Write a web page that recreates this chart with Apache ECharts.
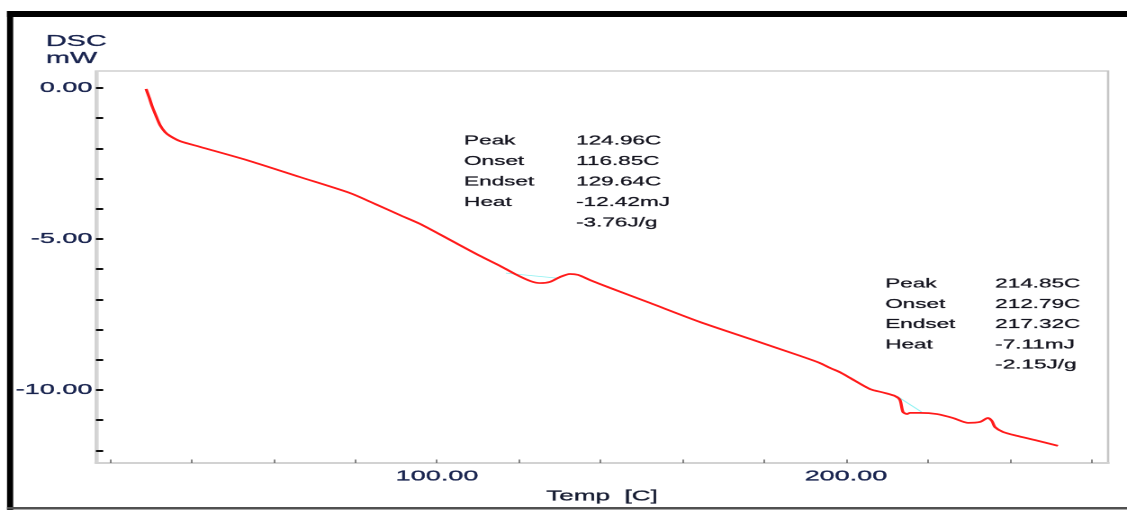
<!DOCTYPE html>
<html>
<head>
<meta charset="utf-8">
<script src="https://cdn.jsdelivr.net/npm/echarts@6/dist/echarts.min.js"></script>
<style>
  html, body { margin: 0; padding: 0; background: #ffffff; overflow: hidden; }
  /* The instrument software draws with wide glyphs; the whole chart is laid out
     narrow and stretched horizontally to reproduce that look. */
  #chart { width: 626px; height: 510px; transform: scaleX(1.8003); transform-origin: 0 0; }
</style>
</head>
<body>
<div id="chart"></div>
<script>
// DSC heating trace: temperature (C) and heat flow (mW)
const temps = [28.85, 29.58, 30.32, 31.30, 32.27, 33.50, 34.72, 37.16, 42.05, 54.28,
  66.50, 78.73, 84.84, 90.95, 95.84, 103.18, 110.51, 115.40, 119.07, 122.74,
  125.18, 127.63, 130.07, 132.52, 134.47, 137.41, 142.30, 152.08, 164.30, 176.53,
  188.75, 193.50, 196.09, 198.60, 200.98, 205.87, 209.54, 211.98, 213.20, 213.94,
  214.91, 215.65, 218.09, 222.25, 226.16, 229.83, 232.76, 234.72, 235.70, 236.43,
  238.39, 241.81, 246.21, 251.83];
const dscValues = [-0.03, -0.30, -0.60, -0.93, -1.23, -1.46, -1.59, -1.76, -1.95, -2.42,
  -2.95, -3.48, -3.84, -4.21, -4.50, -5.03, -5.56, -5.89, -6.16, -6.39,
  -6.46, -6.42, -6.26, -6.16, -6.19, -6.36, -6.62, -7.12, -7.75, -8.31,
  -8.87, -9.10, -9.27, -9.42, -9.60, -9.97, -10.10, -10.20, -10.33, -10.73,
  -10.80, -10.76, -10.76, -10.80, -10.93, -11.09, -11.06, -10.93, -11.03, -11.23,
  -11.39, -11.52, -11.66, -11.85];

// Integration baselines under the two peaks
const baseline1Temps = [116.85, 129.64];
const baseline1Values = [-6.13, -6.30];
const baseline2Temps = [212.60, 218.50];
const baseline2Values = [-10.22, -10.73];

// Axis ranges and tick positions
const xRange = [16.6, 264.1];
const xLabelValues = [100, 200];
const xTickValues = [20, 40, 60, 80, 100, 120, 140, 160, 180, 200, 220, 240, 260];
const yRange = [-12.42, 0.563];
const yLabelValues = [0, -5, -10];
const yTickValues = [0, -1, -2, -3, -4, -5, -6, -7, -8, -9, -10, -11, -12];

// Peak analysis results
const peak1Names = ['Peak', 'Onset', 'Endset', 'Heat', ''];
const peak1Results = ['124.96C', '116.85C', '129.64C', '-12.42mJ', '-3.76J/g'];
const peak2Names = ['Peak', 'Onset', 'Endset', 'Heat', ''];
const peak2Results = ['214.85C', '212.79C', '217.32C', '-7.11mJ', '-2.15J/g'];

const zip = (a, b) => a.map((v, i) => [v, b[i]]);

const FONT = '"Liberation Sans", Arial, sans-serif';
const LABEL_COLOR = '#18234e';
const TEXT_COLOR = '#14141f';

function resultBlock(names, results, x1, x2, y0, step) {
  const els = [];
  const style = t => ({ text: t, font: '12.5px ' + FONT, fill: TEXT_COLOR, verticalAlign: 'middle',
    stroke: TEXT_COLOR, lineWidth: 0.25 });
  names.forEach((n, i) => {
    els.push({ type: 'text', x: x1, y: y0 + i * step, style: style(n) });
    els.push({ type: 'text', x: x2, y: y0 + i * step, style: style(results[i]) });
  });
  return els;
}

const chart = echarts.init(document.getElementById('chart'), null, { renderer: 'canvas', devicePixelRatio: 2 });

chart.setOption({
  backgroundColor: '#ffffff',
  animation: false,
  title: {
    text: 'DSC\nmW', left: 25.5, top: 33, padding: 0,
    textStyle: { fontFamily: FONT, fontSize: 16, lineHeight: 17, fontWeight: 'normal', color: LABEL_COLOR,
      textBorderColor: LABEL_COLOR, textBorderWidth: 0.3 }
  },
  grid: { left: 53.3, right: 10.5, top: 71, bottom: 47, show: true, borderColor: '#c6c6c6', borderWidth: 1.3, backgroundColor: '#ffffff' },
  xAxis: {
    type: 'value', min: xRange[0], max: xRange[1],
    name: 'Temp  [C]', nameLocation: 'middle', nameGap: 26,
    nameTextStyle: { fontFamily: FONT, fontSize: 14.5, color: '#141a30', textBorderColor: '#141a30', textBorderWidth: 0.3 },
    splitLine: { show: false },
    axisLine: { show: true, onZero: false, lineStyle: { color: '#d2d2d2', width: 2 } },
    axisTick: { show: true, inside: true, length: 3.5, customValues: xTickValues, lineStyle: { color: '#6a6a6a', width: 0.8 } },
    axisLabel: { customValues: xLabelValues, formatter: v => v.toFixed(2), margin: 6,
      fontFamily: FONT, fontSize: 15, color: LABEL_COLOR, textBorderColor: LABEL_COLOR, textBorderWidth: 0.3 }
  },
  yAxis: {
    type: 'value', min: yRange[0], max: yRange[1],
    splitLine: { show: false },
    axisLine: { show: true, onZero: false, lineStyle: { color: '#d6d6d6', width: 1.6 } },
    axisTick: { show: true, inside: true, length: 4, customValues: yTickValues, lineStyle: { color: '#111111', width: 2 } },
    axisLabel: { customValues: yLabelValues, formatter: v => v.toFixed(2), margin: 2,
      fontFamily: FONT, fontSize: 15, color: LABEL_COLOR, textBorderColor: LABEL_COLOR, textBorderWidth: 0.3 }
  },
  graphic: [
    { type: 'rect', shape: { x: 3.9, y: 11, width: 623, height: 6 }, style: { fill: '#000000' } },
    { type: 'rect', shape: { x: 3.9, y: 11, width: 3.4, height: 499 }, style: { fill: '#000000' } },
    { type: 'rect', shape: { x: 3.9, y: 507, width: 623, height: 2.5 }, style: { fill: '#505050' } },
    ...resultBlock(peak1Names, peak1Results, 257.8, 320, 141, 20.5),
    ...resultBlock(peak2Names, peak2Results, 491.7, 552.8, 284, 20.3)
  ],
  series: [{
    type: 'line', data: zip(baseline1Temps, baseline1Values), showSymbol: false, silent: true,
    lineStyle: { color: '#8ef2f2', width: 0.8 }, z: 1
  }, {
    type: 'line', data: zip(baseline2Temps, baseline2Values), showSymbol: false, silent: true,
    lineStyle: { color: '#8ef2f2', width: 0.8 }, z: 1
  }, {
    type: 'line', data: zip(temps, dscValues), showSymbol: false, smooth: 0.25, silent: true,
    lineStyle: { color: '#ff1a1a', width: 1.7 }, z: 3
  }]
});
</script>
</body>
</html>
